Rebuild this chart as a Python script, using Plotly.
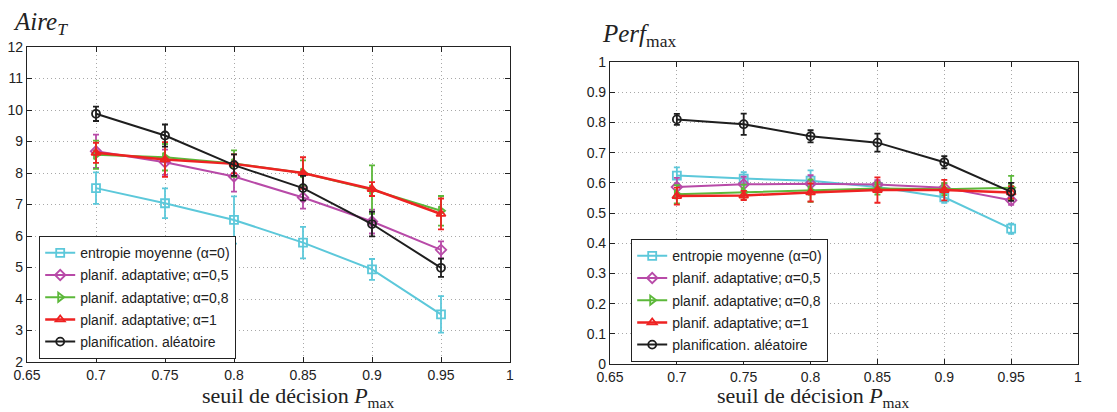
import plotly.graph_objects as go

x_vals = [0.7, 0.75, 0.8, 0.85, 0.9, 0.95]

names = ["entropie moyenne (α=0)", "planif. adaptative;\u2009α=0,5", "planif. adaptative;\u2009α=0,8",
         "planif. adaptative;\u2009α=1", "planification. aléatoire"]

# Left: Aire_T
aire_cyan = [7.52, 7.04, 6.51, 5.79, 4.94, 3.51]
aire_cyan_err = [0.50, 0.47, 0.75, 0.50, 0.33, 0.58]
aire_mag = [8.69, 8.34, 7.89, 7.22, 6.46, 5.56]
aire_mag_err = [0.53, 0.40, 0.48, 0.35, 0.38, 0.27]
aire_green = [8.58, 8.50, 8.30, 8.00, 7.47, 6.80]
aire_green_err = [0.45, 0.42, 0.42, 0.40, 0.77, 0.47]
aire_red = [8.64, 8.43, 8.29, 8.00, 7.49, 6.70]
aire_red_err = [0.32, 0.55, 0.30, 0.50, 0.22, 0.49]
aire_black = [9.88, 9.19, 8.25, 7.52, 6.38, 4.99]
aire_black_err = [0.23, 0.35, 0.34, 0.39, 0.39, 0.29]

# Right: Perf_max
perf_cyan = [0.624, 0.614, 0.607, 0.586, 0.552, 0.448]
perf_cyan_err = [0.027, 0.021, 0.034, 0.012, 0.018, 0.017]
perf_mag = [0.586, 0.595, 0.597, 0.594, 0.584, 0.542]
perf_mag_err = [0.030, 0.025, 0.028, 0.015, 0.015, 0.015]
perf_green = [0.562, 0.569, 0.574, 0.581, 0.579, 0.584]
perf_green_err = [0.030, 0.025, 0.037, 0.020, 0.020, 0.039]
perf_red = [0.556, 0.558, 0.568, 0.576, 0.576, 0.568]
perf_red_err = [0.028, 0.015, 0.030, 0.042, 0.034, 0.020]
perf_black = [0.810, 0.794, 0.754, 0.733, 0.668, 0.570]
perf_black_err = [0.018, 0.035, 0.020, 0.030, 0.020, 0.030]

x_ticks = [0.65, 0.7, 0.75, 0.8, 0.85, 0.9, 0.95, 1.0]
x_ticklabels = ["0.65", "0.7", "0.75", "0.8", "0.85", "0.9", "0.95", "1"]
y1_ticks = list(range(2, 13))
y2_ticks = [0, 0.1, 0.2, 0.3, 0.4, 0.5, 0.6, 0.7, 0.8, 0.9, 1.0]
y2_ticklabels = ["0", "0.1", "0.2", "0.3", "0.4", "0.5", "0.6", "0.7", "0.8", "0.9", "1"]

colors = ["#5cc8da", "#b84aa8", "#5cb83a", "#ee2222", "#1e1e1e"]
symbols = ["square-open", "diamond-open", "triangle-right-open", "triangle-up-open", "circle-open"]
widths = [2, 2, 2, 2.5, 2]

W, H = 1117, 412
fig = go.Figure()

left_series = [(aire_cyan, aire_cyan_err), (aire_mag, aire_mag_err), (aire_green, aire_green_err),
               (aire_red, aire_red_err), (aire_black, aire_black_err)]
right_series = [(perf_cyan, perf_cyan_err), (perf_mag, perf_mag_err), (perf_green, perf_green_err),
                (perf_red, perf_red_err), (perf_black, perf_black_err)]

for side, series, xa, ya, leg in [("L", left_series, "x", "y", "legend"),
                                  ("R", right_series, "x2", "y2", "legend2")]:
    for i, (vals, errs) in enumerate(series):
        fig.add_trace(go.Scatter(
            x=x_vals, y=vals, xaxis=xa, yaxis=ya, mode="lines+markers",
            name=names[i], legend=leg, legendgroup=side + str(i),
            line=dict(color=colors[i], width=widths[i]),
            marker=dict(symbol=symbols[i], size=8, color=colors[i], line=dict(width=1.8, color=colors[i])),
            error_y=dict(type="data", array=errs, visible=True, color=colors[i], thickness=1.8, width=3),
        ))

sans = "Liberation Sans"
axis_common = dict(showline=True, linecolor="#222222", linewidth=1.2, mirror="ticks",
                   ticks="inside", ticklen=5, tickcolor="#222222", automargin=False,
                   showgrid=True, gridcolor="#a8a8a8", griddash="1px,3px", gridwidth=1,
                   zeroline=False, tickfont=dict(family=sans, size=14, color="#222222"))

def px_x(p):
    return p / W

def px_y(p):
    return 1 - p / H

legend_common = dict(xanchor="left", yanchor="top", bordercolor="#222222", borderwidth=1.2,
                     bgcolor="white", font=dict(family=sans, size=14, color="#222222"),
                     traceorder="grouped", tracegroupgap=1, itemwidth=30)

fig.update_layout(
    width=W, height=H,
    margin=dict(l=0, r=0, t=0, b=0),
    paper_bgcolor="white", plot_bgcolor="white",
    xaxis=dict(domain=[px_x(27), px_x(510)], range=[0.65, 1.0], tickvals=x_ticks, ticktext=x_ticklabels,
               anchor="y", **axis_common),
    yaxis=dict(domain=[px_y(362), px_y(47)], range=[2, 12], tickvals=y1_ticks, anchor="x", **axis_common),
    xaxis2=dict(domain=[px_x(610), px_x(1078)], range=[0.65, 1.0], tickvals=x_ticks, ticktext=x_ticklabels,
                anchor="y2", **axis_common),
    yaxis2=dict(domain=[px_y(364), px_y(62)], range=[0, 1], tickvals=y2_ticks, ticktext=y2_ticklabels,
                anchor="x2", **axis_common),
    legend=dict(x=px_x(39), y=px_y(236), **legend_common),
    legend2=dict(x=px_x(631), y=px_y(239), **legend_common),
    showlegend=True,
)

serif = "Liberation Serif"
annots = [
    dict(x=px_x(12), y=px_y(40), text="<i>Aire</i><sub><i>T</i></sub>", xanchor="left", yanchor="bottom", size=25),
    dict(x=px_x(601), y=px_y(52), text="<i>Perf</i><sub>max</sub>", xanchor="left", yanchor="bottom", size=25),
    dict(x=px_x(298), y=0, text="seuil de décision <i>P</i><sub>max</sub>", xanchor="center", yanchor="bottom", size=22),
    dict(x=px_x(813), y=0, text="seuil de décision <i>P</i><sub>max</sub>", xanchor="center", yanchor="bottom", size=22),
]
for a in annots:
    size = a.pop("size")
    fig.add_annotation(xref="paper", yref="paper", showarrow=False, borderpad=0,
                       font=dict(family=serif, size=size, color="#222222"), **a)

fig.write_html("out.html")
